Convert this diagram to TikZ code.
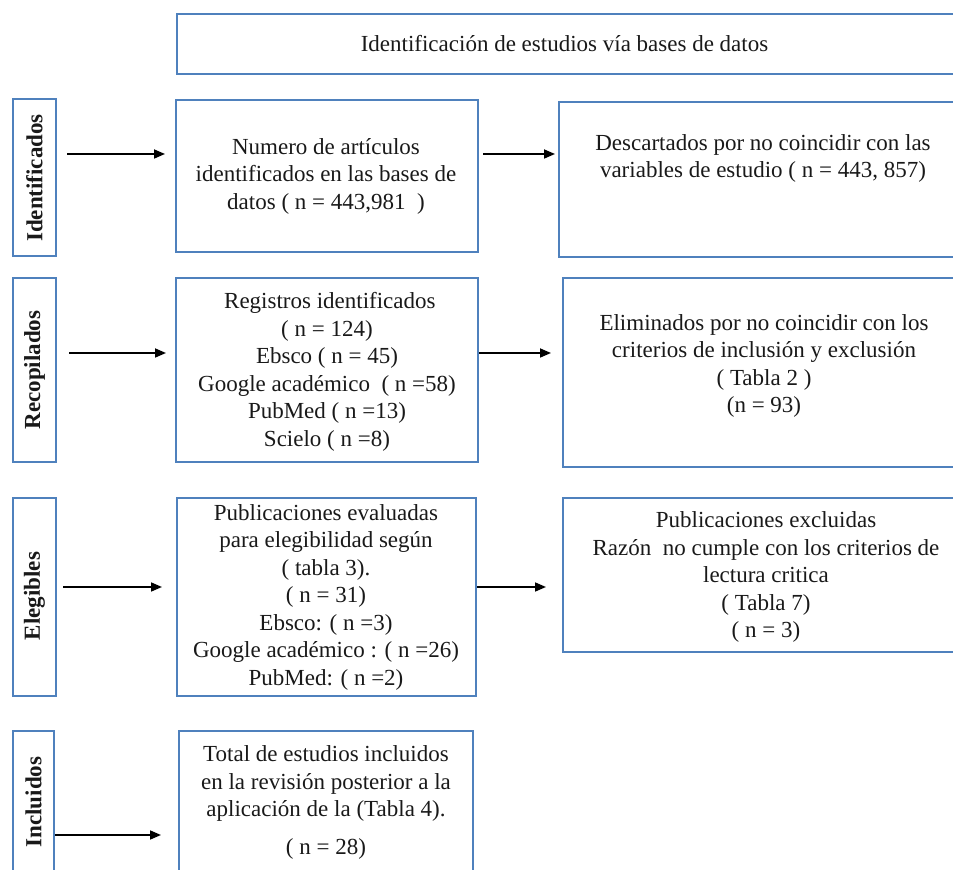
\documentclass[tikz,border=0pt]{standalone}
\usepackage{fontspec}
\setmainfont{Liberation Serif}
\usetikzlibrary{arrows.meta}
\definecolor{boxblue}{RGB}{79,129,189}
\definecolor{txt}{RGB}{25,25,25}
\tikzset{
  frame/.style={draw=boxblue, line width=1pt, inner sep=0pt, fill=none},
  body/.style={align=center, inner sep=0pt, text=txt, font=\fontsize{11.5}{13.75}\selectfont},
  side/.style={rotate=90, inner sep=0pt, text=txt, font=\fontsize{11.5}{13.75}\selectfont\bfseries},
  arr/.style={line width=0.85pt, -{Triangle[length=5.5pt,width=4.5pt]}}
}
\begin{document}
\begin{tikzpicture}[x=0.5pt,y=-0.5pt]
\useasboundingbox (0,0) rectangle (953,870);
\clip (0,0) rectangle (953,870);

% boxes
\node[frame, minimum width=391.5pt, minimum height=30pt] (top) at (568.5,44) {};
\node[frame, minimum width=21.5pt, minimum height=78.5pt] (lab1) at (34.5,177.5) {};
\node[frame, minimum width=151pt, minimum height=76pt] (box1) at (327,176) {};
\node[frame, minimum width=200.5pt, minimum height=77.5pt] (box1r) at (759.5,179.5) {};
\node[frame, minimum width=21.5pt, minimum height=92pt] (lab2) at (34.5,370) {};
\node[frame, minimum width=151pt, minimum height=92pt] (box2) at (327,370) {};
\node[frame, minimum width=198.5pt, minimum height=94.5pt] (box2r) at (761.5,372.5) {};
\node[frame, minimum width=21.5pt, minimum height=99pt] (lab3) at (34.5,597) {};
\node[frame, minimum width=149.5pt, minimum height=99pt] (box3) at (326.5,597) {};
\node[frame, minimum width=198.5pt, minimum height=77pt] (box3r) at (761.5,575) {};
\node[frame, minimum width=20.5pt, minimum height=79.5pt] (lab4) at (33.5,810.5) {};
\node[frame, minimum width=147pt, minimum height=79.5pt] (box4) at (326,810.5) {};

% texts
\node[body] (ttop) at (564.5,44) {Identificación de estudios vía bases de datos};
\node[side] (s1) at (34.5,178) {Identificados};
\node[side] (s2) at (34.5,370) {Recopilados};
\node[side] (s3) at (34.5,596) {Elegibles};
\node[side] (s4) at (33.5,802) {Incluidos};
\node[body] (t1) at (326,176) {Numero de artículos\\identificados en las bases de\\datos ( n = 443,981~ )};
\node[body] (t1r) at (763,158.5) {Descartados por no coincidir con las\\variables de estudio ( n = 443, 857)};
\node[body] (t2) at (327,372) {~Registros identificados\\( n = 124)\\Ebsco ( n = 45)\\Google académico~ ( n =58)\\PubMed ( n =13)\\Scielo ( n =8)};
\node[body] (t2r) at (764,366) {Eliminados por no coincidir con los\\criterios de inclusión y exclusión\\( Tabla 2 )\\(n = 93)};
\node[body] (t3) at (326,597) {Publicaciones evaluadas\\para elegibilidad según\\( tabla 3).\\( n = 31)\\Ebsco: ( n =3)\\Google académico : ( n =26)\\PubMed: ( n =2)};
\node[body] (t3r) at (766,577) {Publicaciones excluidas\\Razón~ no cumple con los criterios de\\lectura critica\\( Tabla 7)\\( n = 3)};
\node[body] (t4) at (326,802.5) {Total de estudios incluidos\\en la revisión posterior a la\\aplicación de la (Tabla 4).\\[5pt]( n = 28)};

% arrow rows
\coordinate (r1) at (0,154);
\coordinate (r2) at (0,353);
\coordinate (r3) at (0,587);
\coordinate (r4) at (0,835);

\draw[arr, shorten <=5pt, shorten >=5pt] (lab1.east |- r1) -- (box1.west |- r1);
\draw[arr, shorten <=2pt, shorten >=1.5pt] (box1.east |- r1) -- (box1r.west |- r1);
\draw[arr, shorten <=6pt, shorten >=4.5pt] (lab2.east |- r2) -- (box2.west |- r2);
\draw[arr, shorten >=5.5pt] (box2.east |- r2) -- (box2r.west |- r2);
\draw[arr, shorten <=3pt, shorten >=7pt] (lab3.east |- r3) -- (box3.west |- r3);
\draw[arr, shorten >=8pt] (box3.east |- r3) -- (box3r.west |- r3);
\draw[arr, shorten >=8.5pt] (lab4.east |- r4) -- (box4.west |- r4);
\end{tikzpicture}
\end{document}
